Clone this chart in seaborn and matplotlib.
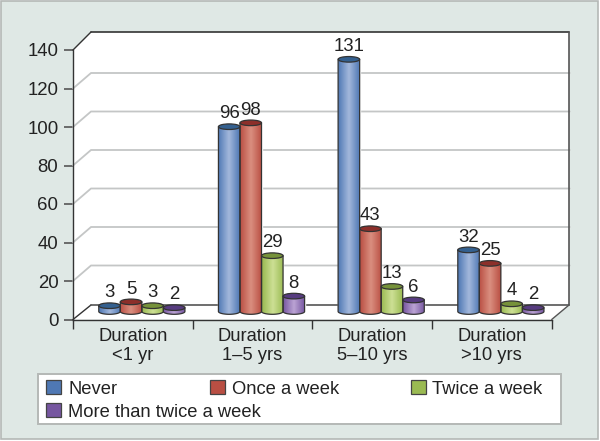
import numpy as np
import pandas as pd
import matplotlib
matplotlib.use('Agg')
import matplotlib.pyplot as plt
from matplotlib.colors import LinearSegmentedColormap
from matplotlib.patches import Ellipse, PathPatch, Polygon, Rectangle
from matplotlib.path import Path
from matplotlib.transforms import Affine2D
import seaborn as sns

groups = ['Duration\n<1 yr', 'Duration\n1–5 yrs', 'Duration\n5–10 yrs', 'Duration\n>10 yrs']
series = ['Never', 'Once a week', 'Twice a week', 'More than twice a week']
never = [3, 96, 131, 32]
once = [5, 98, 43, 25]
twice = [3, 29, 13, 4]
more = [2, 8, 6, 2]
y_ticks = [0, 20, 40, 60, 80, 100, 120, 140]

# edge, highlight, top of cylinder
colors = {
    'Never': ('#4f78b4', '#a3b8dc', '#34608f'),
    'Once a week': ('#b94f43', '#da8f80', '#8c2f2a'),
    'Twice a week': ('#9aba52', '#cde095', '#76923a'),
    'More than twice a week': ('#7656a0', '#bba4d4', '#573c80'),
}

W, H = 600, 441
BG = '#dfe8e5'
DARK = '#333333'
TEXT = '#222222'

plt.rcParams['font.family'] = ['Liberation Sans', 'DejaVu Sans']
sns.set_style('white')
plt.rcParams['font.family'] = ['Liberation Sans', 'DejaVu Sans']


def px_box(x0, y_top, x1, y_bottom):
    return [x0 / W, 1 - y_bottom / H, (x1 - x0) / W, (y_bottom - y_top) / H]


def px(x, y):
    return (x / W, 1 - y / H)


df = pd.DataFrame({
    'group': groups * 4,
    'freq': np.repeat(series, 4),
    'value': never + once + twice + more,
})

fig = plt.figure(figsize=(W / 100, H / 100), dpi=100, facecolor='white')

# panel background
fig.add_artist(Rectangle(px(1, 439), 597 / W, 438 / H, transform=fig.transFigure,
                         facecolor=BG, edgecolor='#b4b8b6', lw=1.2))

# 3D box: white walls and floor
wall = [(73, 50), (91, 32), (569, 32), (569, 305), (551.7, 319.5), (73, 319.5)]
fig.add_artist(Polygon([px(*p) for p in wall], transform=fig.transFigure,
                       facecolor='white', edgecolor='none'))

# front plane axes carry the ticks
front = fig.add_axes(px_box(73, 50, 551.7, 319.5), zorder=1)
front.patch.set_visible(False)
front.set_xlim(-0.5, 3.5)
front.set_ylim(0, 140)
for s in ['top', 'right']:
    front.spines[s].set_visible(False)
for s in ['left', 'bottom']:
    front.spines[s].set_color(DARK)
    front.spines[s].set_linewidth(1.0)
front.set_yticks(y_ticks)
front.tick_params(axis='y', length=6.5, width=1.2, color='#555555', pad=4, labelsize=13.4, labelcolor=TEXT, left=True)
front.set_xticks([-0.5, 0.5, 1.5, 2.5, 3.5])
front.set_xticklabels([])
front.tick_params(axis='x', which='major', length=6.5, width=1.0, color=DARK, bottom=True)
front.set_xticks(range(4), groups, minor=True)
front.tick_params(axis='x', which='minor', length=0, pad=6, labelsize=13.2, labelcolor=TEXT)

# gridlines run up the left wall then along the back
back = Affine2D().translate(18, 15.5)
to_back = front.transData + back
for v in y_ticks[1:-1]:
    yb = front.transData.transform((0, v))[1]
    xl = front.transData.transform((-0.5, v))[0]
    xr = to_back.transform((3.5, v))[0]
    front.plot([xl, xl + 18, xr], [yb, yb + 15.5, yb + 15.5], transform=None,
               color='#c4c6c6', lw=1.3, clip_on=False, zorder=1)

# box outline
for a, b, c, lw in [((73, 50), (91, 32), DARK, 1.0),
                    ((91, 32), (569, 32), DARK, 1.2),
                    ((569, 32), (569, 305), '#555555', 1.2),
                    ((569, 305), (551.7, 319.5), '#555555', 1.0),
                    ((73, 319.5), (91, 305), DARK, 1.0),
                    ((91, 305), (569, 305), '#555555', 1.2)]:
    fig.add_artist(plt.Line2D([px(*a)[0], px(*b)[0]], [px(*a)[1], px(*b)[1]],
                              transform=fig.transFigure, color=c, lw=lw))

# bars live in the middle of the box depth
scale = 269.5 / 140
ax = fig.add_axes(px_box(82, 311.5 - 140 * scale, 560.7, 311.5 + 10 * scale), zorder=2)
sns.barplot(data=df, x='group', y='value', hue='freq', order=groups, hue_order=series,
            palette={k: v[0] for k, v in colors.items()}, width=0.72, gap=0,
            saturation=1, legend=False, ax=ax)
ax.set_xlim(-0.5, 3.5)
ax.set_ylim(-10, 140)
ax.axis('off')

eh = 5.6 / scale  # ellipse height in data units
z = 5
for name, cont in zip(series, ax.containers):
    edge, light, top = colors[name]
    cmap = LinearSegmentedColormap.from_list(name, [edge, light, edge])
    for bar in cont:
        x0, w, v = bar.get_x(), bar.get_width(), bar.get_height()
        cx = x0 + w / 2
        t = np.linspace(np.pi, 2 * np.pi, 40)
        xs = np.r_[x0, cx + w / 2 * np.cos(t), x0 + w, x0]
        ys = np.r_[v, eh / 2 * np.sin(t), v, v]
        shape = PathPatch(Path(np.c_[xs, ys]), facecolor='none', edgecolor=DARK, lw=0.9, zorder=z + 2)
        ax.add_patch(shape)
        im = ax.imshow(np.linspace(0, 1, 64)[None, :], extent=(x0, x0 + w, -eh, v + 1), cmap=cmap,
                       aspect='auto', zorder=z + 1, interpolation='bilinear')
        im.set_clip_path(shape)
        ax.add_patch(Ellipse((cx, v), w, eh, facecolor=top, edgecolor=DARK, lw=0.9, zorder=z + 3))
        ax.annotate(str(int(v)), (cx, v), xytext=(0, 6), textcoords='offset points', ha='center',
                    va='baseline', fontsize=13.4, color=TEXT, zorder=40, annotation_clip=False)
        z += 0
    z += 0
ax.set_xlim(-0.5, 3.5)
ax.set_ylim(-10, 140)

# legend box, laid out by hand because the second row does not follow columns
fig.add_artist(Rectangle(px(38, 423.7), 523 / W, 50 / H, transform=fig.transFigure,
                         facecolor='white', edgecolor='#b4b8b6', lw=1.4))
slots = [(46, 387), (210, 387), (410.5, 387), (46, 410)]
for name, (x, y) in zip(series, slots):
    fig.add_artist(Rectangle(px(x, y + 7), 15 / W, 14 / H, transform=fig.transFigure,
                             facecolor=colors[name][0], edgecolor='#444444', lw=0.9))
    fig.text(*px(x + 22, y + 0.5), name, fontsize=13.2, color=TEXT, va='center_baseline', ha='left')

fig.savefig('out.png', dpi=100, facecolor=fig.get_facecolor())
